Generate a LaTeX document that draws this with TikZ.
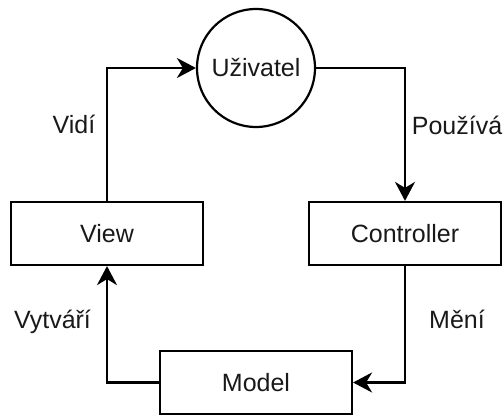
\documentclass[tikz,border=0pt]{standalone}
\usepackage{fontspec}
\setmainfont{Liberation Sans}
\usetikzlibrary{arrows.meta}
\begin{document}
\begin{tikzpicture}[x=1pt,y=1pt,
  every node/.style={font=\fontsize{25}{29}\selectfont, text=black!90},
  boxnode/.style={draw=black, line width=2.2pt, minimum width=192pt, minimum height=63pt, inner sep=0pt},
  usernode/.style={draw=black, line width=2.2pt, circle, minimum size=118pt, inner sep=0pt},
  flow/.style={draw=black, line width=2.2pt, -{Stealth[length=19pt,width=20pt,inset=6pt]}},
  lbl/.style={inner sep=0pt, anchor=base}]
  \useasboundingbox (0,0) rectangle (504,416);
  % nodes
  \node[usernode] (user) at (256,348) {Uživatel};
  \node[boxnode] (view) at (107,182.5) {View};
  \node[boxnode] (ctrl) at (405,182.5) {Controller};
  \node[boxnode] (model) at (256,33.5) {Model};
  % connectors
  \coordinate (c1) at (view.north |- user.west);
  \coordinate (c2) at (ctrl.north |- user.east);
  \coordinate (c3) at (ctrl.south |- model.east);
  \coordinate (c4) at (view.south |- model.west);
  \draw[flow] (view.north) -- (c1) -- (user.west);
  \draw[flow] (user.east) -- (c2) -- (ctrl.north);
  \draw[flow] (ctrl.south) -- (c3) -- (model.east);
  \draw[flow] (model.west) -- (c4) -- (view.south);
  % labels
  \node[lbl] (l1) at (74,282) {Vidí};
  \node[lbl] (l2) at (457,281) {Používá};
  \node[lbl] (l3) at (52.5,88) {Vytváří};
  \node[lbl] (l4) at (457,88) {Mění};
\end{tikzpicture}
\end{document}
